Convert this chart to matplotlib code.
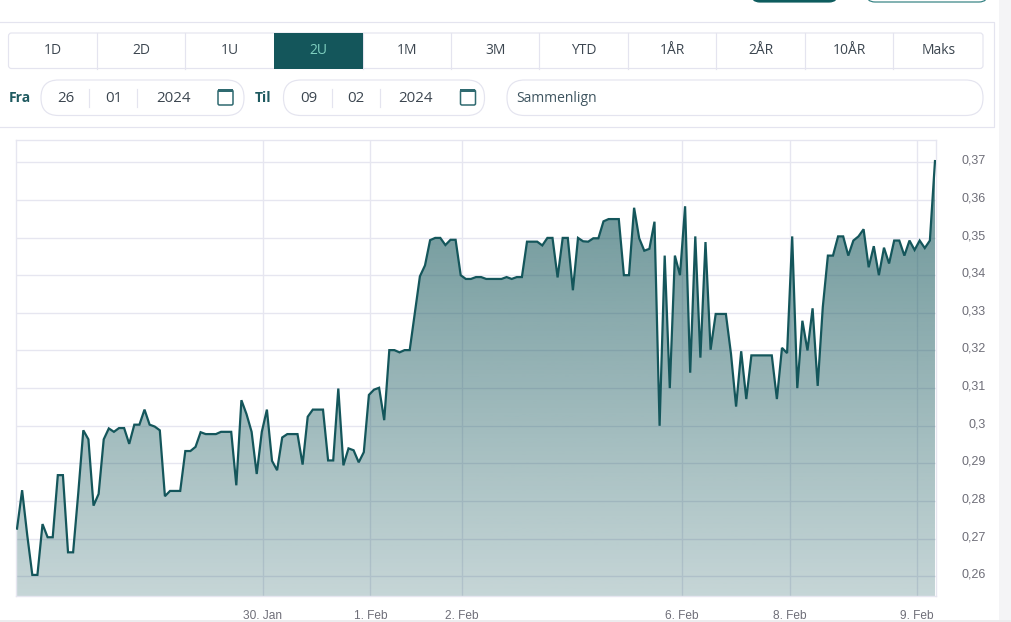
import numpy as np
import matplotlib
matplotlib.use('Agg')
import matplotlib.pyplot as plt
from matplotlib.patches import FancyBboxPatch, Rectangle
from matplotlib.transforms import ScaledTranslation

# price per sample
prices = [
    .2727, .2829, .2710, .2604, .2604, .2739, .2704, .2704, .2869, .2869,
    .2664, .2664, .2820, .2988, .2964, .2788, .2819, .2964, .2993, .2984,
    .2994, .2994, .2952, .3003, .3003, .3043, .3003, .2998, .2988, .2813,
    .2827, .2827, .2827, .2933, .2933, .2944, .2983, .2978, .2978, .2978,
    .2984, .2984, .2984, .2842, .3068, .3031, .2984, .2872, .2984, .3043,
    .2907, .2882, .2969, .2978, .2978, .2978, .2897, .3024, .3043, .3043,
    .3043, .2908, .2908, .3099, .2895, .2940, .2935, .2903, .2930, .3082,
    .3096, .3101, .3015, .3201, .3201, .3195, .3201, .3201, .3300, .3397,
    .3426, .3493, .3499, .3499, .3480, .3494, .3494, .3400, .3390, .3390,
    .3395, .3395, .3390, .3390, .3390, .3390, .3395, .3390, .3395, .3395,
    .3489, .3489, .3489, .3479, .3499, .3499, .3394, .3499, .3499, .3360,
    .3499, .3490, .3489, .3498, .3498, .3543, .3549, .3549, .3549, .3400,
    .3400, .3579, .3498, .3465, .3470, .3542, .3000, .3452, .3100, .3452,
    .3400, .3583, .3141, .3503, .3181, .3488, .3202, .3297, .3297, .3297,
    .3191, .3051, .3198, .3071, .3187, .3187, .3187, .3187, .3187, .3071,
    .3207, .3193, .3503, .3100, .3279, .3200, .3312, .3106, .3315, .3452,
    .3452, .3503, .3503, .3452, .3492, .3503, .3522, .3421, .3477, .3400,
    .3473, .3431, .3492, .3492, .3452, .3492, .3467, .3492, .3472, .3492,
    .3703,
]
x_ticks = [48.2, 69.3, 87.25, 130.4, 151.5, 176.5]
x_labels = ['30. Jan', '1. Feb', '2. Feb', '6. Feb', '8. Feb', '9. Feb']
y_ticks = [.26, .27, .28, .29, .30, .31, .32, .33, .34, .35, .36, .37]
y_labels = ['0,26', '0,27', '0,28', '0,29', '0,3', '0,31', '0,32', '0,33', '0,34', '0,35', '0,36', '0,37']
ranges = ['1D', '2D', '1U', '2U', '1M', '3M', 'YTD', '1ÅR', '2ÅR', '10ÅR', 'Maks']
active_range = '2U'

DARK = '#14565b'
EDGE = '#e4e4ef'
INK = '#3c4650'
UI_FONT = ['Open Sans', 'DejaVu Sans']
W, H = 1012, 622

fig = plt.figure(figsize=(W / 100, H / 100), dpi=100, facecolor='white')

# page chrome, drawn in pixel coordinates
ui = fig.add_axes([0, 0, 1, 1])
ui.set_xlim(0, W)
ui.set_ylim(H, 0)
ui.axis('off')


def pill(x0, y0, x1, y1, r, fc='white', ec=EDGE, lw=0.85):
    ui.add_patch(FancyBboxPatch((x0 + r, y0 + r), x1 - x0 - 2 * r, y1 - y0 - 2 * r,
                                boxstyle='round,pad=%g,rounding_size=%g' % (r, r),
                                fc=fc, ec=ec, lw=lw))


def label(x, y, s, size=10, color=INK, ha='center', weight='normal', zorder=4):
    ui.text(x, y, s, fontsize=size, color=color, ha=ha, va='center',
            family=UI_FONT, weight=weight, zorder=zorder)


def calendar(x0):
    ui.add_patch(FancyBboxPatch((x0 + 1, 90), 15, 15, boxstyle='round,pad=0,rounding_size=1.5',
                                fc='white', ec='#2f6a70', lw=1.1))
    ui.add_patch(Rectangle((x0 + 1, 89), 15, 3, fc='#2f6a70', ec='none'))


ui.add_patch(Rectangle((999, 0), 13, H, fc='#f4f4f6', ec='none'))
ui.add_patch(Rectangle((0, 620), W, 2, fc='#ececee', ec='none'))
ui.plot([0, 994.5, 994.5, 0], [21.5, 21.5, 127, 127], color=EDGE, lw=0.85)

# buttons cut off by the top edge
pill(751, -20, 838, 2, 9, fc='#0d5c5e', ec='#0d5c5e')
pill(866, -20, 988, 2, 9, fc='white', ec='#2f7f80')

# range selector
edges = [8.5, 97.5, 185.5, 274, 363, 451.5, 539.5, 628.5, 716.5, 805.5, 893.5, 983]
pill(edges[0], 33, edges[-1], 68.5, 3)
for i, name in enumerate(ranges):
    x0, x1 = edges[i], edges[i + 1]
    on = name == active_range
    if on:
        ui.add_patch(Rectangle((x0, 33), x1 - x0, 35.5, fc=DARK, ec='none', zorder=3))
    elif i > 0:
        ui.plot([x0, x0], [33, 68.5], color=EDGE, lw=0.85)
    label((x0 + x1) / 2, 50, name, color='#7fd0c0' if on else INK)

# date inputs
label(9, 98.5, 'Fra', ha='left', color='#1f5a60', weight='bold')
label(255, 98.5, 'Til', ha='left', color='#1f5a60', weight='bold')
for x0, x1, d, m, y in [(41, 244, '26', '01', '2024'), (283.5, 484.5, '09', '02', '2024')]:
    pill(x0, 80, x1, 115.5, 17.5)
    for sep in (48.5, 96.5):
        ui.plot([x0 + sep, x0 + sep], [89, 107], color=EDGE, lw=0.85)
    label(x0 + 25, 98.5, d, size=10.8)
    label(x0 + 72.5, 98.5, m, size=10.8)
    label(x0 + 132.5, 98.5, y, size=10.8)
    calendar(x0 + 176)
pill(507, 80, 983, 115.5, 17.5)
label(516.5, 98.5, 'Sammenlign', ha='left', color='#3f5560')

# chart
left, right, top, bottom = 16, 936, 140, 596
ax = fig.add_axes([left / W, 1 - bottom / H, (right - left) / W, (bottom - top) / H])
ax.patch.set_alpha(0)
x = np.arange(len(prices))
ax.set_xlim(-0.2, 180.2)
ax.set_ylim(.2548, .3759)
ax.set_axisbelow(True)
ax.grid(True, color='#e6e6f0', lw=1.0)

area = ax.fill_between(x, prices, ax.get_ylim()[0], color='none', lw=0)
grad = np.zeros((256, 1, 4))
grad[..., :3] = matplotlib.colors.to_rgb(DARK)
grad[:, 0, 3] = np.linspace(0.66, 0.245, 256)
xlim, ylim = ax.get_xlim(), ax.get_ylim()
im = ax.imshow(grad, extent=[xlim[0], xlim[1], ylim[0], ylim[1]],
               aspect='auto', origin='upper', zorder=2)
im.set_clip_path(area.get_paths()[0], transform=ax.transData)
ax.plot(x, prices, color=DARK, lw=1.6, zorder=3, solid_joinstyle='miter')
ax.set_xlim(xlim)
ax.set_ylim(ylim)

ax.set_xticks(x_ticks, x_labels)
ax.set_yticks(y_ticks, y_labels)
ax.yaxis.tick_right()
ax.tick_params(axis='both', length=0, labelcolor='#6e6e78')
ax.tick_params(axis='y', pad=36, labelsize=9)
ax.tick_params(axis='x', pad=10, labelsize=8.6)
nudge = ScaledTranslation(0, 3 / 100, fig.dpi_scale_trans)
for t in ax.get_yticklabels():
    t.set_ha('right')
    t.set_transform(t.get_transform() + nudge)
for t in ax.get_xticklabels() + ax.get_yticklabels():
    t.set_family('Liberation Sans')
for s in ax.spines.values():
    s.set_color('#e6e6f0')
    s.set_linewidth(1.0)

fig.savefig('out.png', dpi=100)
